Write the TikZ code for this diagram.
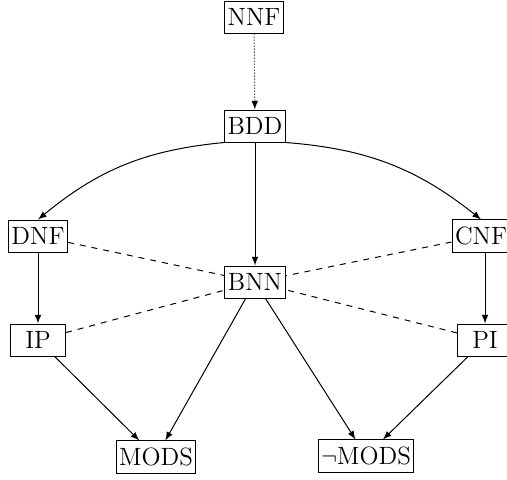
\documentclass[tikz,border=0pt]{standalone}
\usepackage{amsmath, amssymb}
\usepackage{tikz}
\usetikzlibrary{arrows}

\begin{document}
\begin{tikzpicture}[x=0.5pt,y=-0.5pt, >=latex, line width=0.5pt,
   lang/.style={draw, rectangle, inner xsep=1.5pt, inner ysep=3.5pt, minimum width=27.5pt, minimum height=16pt, font=\fontsize{12.5}{14}\selectfont}]
\useasboundingbox (0,0) rectangle (507,479);
      \node [lang] at (254,17) (nnf) {NNF};
       \node [lang] at (255,126) (bdd) {BDD};
         \node [lang] at (38,236) (dnf) {DNF};
          \node [lang] at (481,236) (cnf) {CNF};
           \node [lang] at (255,282) (bnn) {BNN};
            \node [lang] at (38,340) (ip) {IP};
             \node [lang] at (485,340) (pi) {PI};
              \node [lang] at (156,457) (mods) {MODS};
               \node [lang] at (366,456) (nmods) {$\neg$MODS};
%
%
\path[->,densely dotted] (nnf) edge (bdd);
\path[->] (bdd.south west) edge [bend right=17] (dnf.north);
\path[->] (bdd.south east) edge [bend left=17] (cnf.north);
\path[->] (bdd) edge (bnn);
\path[->] (dnf) edge (ip);
\path[->] (cnf.south -| pi) edge (pi);
\path[dashed] (dnf) edge (bnn);
\path[dashed] (cnf) edge (bnn);
\path[dashed] (ip) edge (bnn);
\path[dashed] (pi) edge (bnn);
\path[->] (ip) edge (mods);
\path[->] (bnn) edge (mods);
\path[->] (bnn) edge (nmods);
\path[->] (pi) edge (nmods);

\end{tikzpicture}
\end{document}
